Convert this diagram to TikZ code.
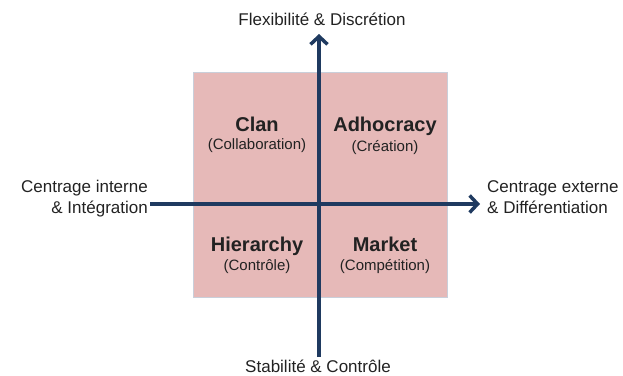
\documentclass[tikz,border=0pt]{standalone}
\usepackage{fontspec}
\setmainfont{Liberation Sans}
\usetikzlibrary{arrows.meta}
\definecolor{quadfill}{HTML}{E6B9B8}
\definecolor{quadline}{HTML}{C9CFDA}
\definecolor{axisblue}{HTML}{1F3A60}
\definecolor{textgray}{HTML}{222222}

\begin{document}
\begin{tikzpicture}[x=1pt,y=-1pt,
        title/.style={font=\fontsize{20}{24}\selectfont\bfseries, text=textgray,
                      inner sep=0pt, anchor=base},
        sub/.style={font=\fontsize{15}{18}\selectfont, text=textgray,
                    inner sep=0pt, anchor=base},
        axlabel/.style={font=\fontsize{17}{21}\selectfont, text=textgray, inner sep=0pt},
        axis/.style={axisblue, line width=3.5pt,
                     -{Straight Barb[length=8pt, width=17pt]}}
                            ]
        \useasboundingbox (0,0) rectangle (623,375);
        % quadrant square
        \draw[fill=quadfill, draw=quadline] (193,72) rectangle (447,297);
        % axis
        \coordinate (west)  at (150,204);
        \coordinate (east)  at (480,204);
        \coordinate (south) at (319,357);
        \coordinate (north) at (319,34);
        \draw[axis] (west) -- (east);
        \draw[axis] (south) -- (north);
        % axis labels
        \node[axlabel, anchor=base] (top) at (322,25) {Flexibilité \& Discrétion};
        \node[axlabel, anchor=base] (bottom) at (318,372) {Stabilité \& Contrôle};
        \node[axlabel, anchor=base east, align=right] (left) at (148,213)
             {Centrage interne\\\& Intégration};
        \node[axlabel, anchor=base west, align=left] (right) at (487,213)
             {Centrage externe\\\& Différentiation};
        % quadrants
        \node[title] (clan)  at (257,131) {Clan};
        \node[sub]   (clanS) at (257,149) {(Collaboration)};
        \node[title] (adho)  at (385,131) {Adhocracy};
        \node[sub]   (adhoS) at (385,151) {(Création)};
        \node[title] (hier)  at (257,251) {Hierarchy};
        \node[sub]   (hierS) at (257,270) {(Contrôle)};
        \node[title] (mark)  at (385,251) {Market};
        \node[sub]   (markS) at (385,270) {(Compétition)};
    \end{tikzpicture}
\end{document}
